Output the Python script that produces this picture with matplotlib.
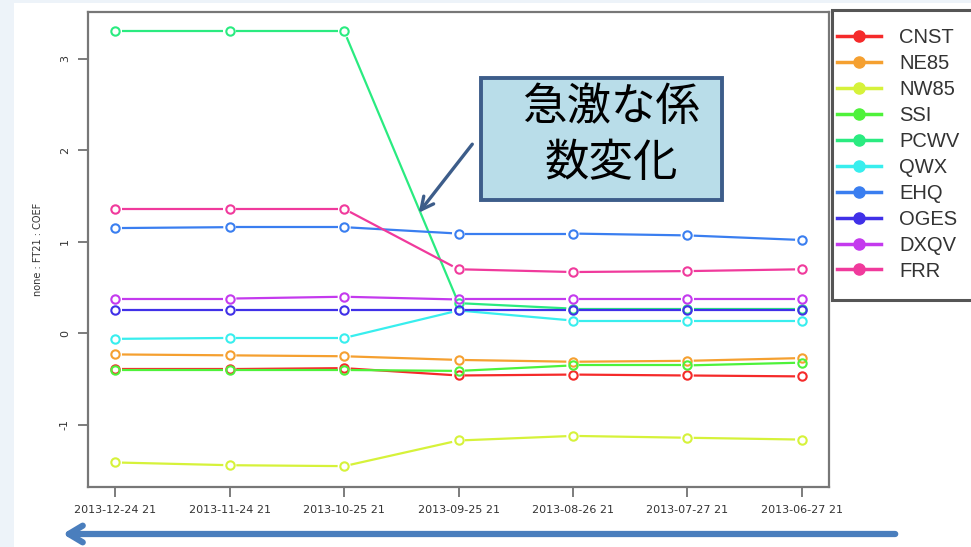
import numpy as np
import matplotlib.pyplot as plt
from matplotlib.lines import Line2D
from matplotlib.patches import Rectangle

W, H = 971, 547

dates = ["2013-12-24 21", "2013-11-24 21", "2013-10-25 21", "2013-09-25 21",
         "2013-08-26 21", "2013-07-27 21", "2013-06-27 21"]
names = ["CNST", "NE85", "NW85", "SSI", "PCWV", "QWX", "EHQ", "OGES", "DXQV", "FRR"]
colors = ["#f52a2a", "#f5a030", "#d6f23a", "#4ef23a", "#2aeb80",
          "#38eeee", "#3a7ef0", "#4030e8", "#c43aee", "#f03a9c"]

cnst = [-0.39, -0.39, -0.38, -0.46, -0.45, -0.46, -0.47]
ne85 = [-0.23, -0.24, -0.25, -0.29, -0.31, -0.30, -0.27]
nw85 = [-1.41, -1.44, -1.45, -1.17, -1.12, -1.14, -1.16]
ssi = [-0.40, -0.40, -0.40, -0.41, -0.35, -0.35, -0.32]
pcwv = [3.30, 3.30, 3.30, 0.33, 0.27, 0.27, 0.27]
qwx = [-0.06, -0.05, -0.05, 0.25, 0.14, 0.14, 0.14]
ehq = [1.15, 1.16, 1.16, 1.09, 1.09, 1.07, 1.02]
oges = [0.25, 0.25, 0.25, 0.25, 0.25, 0.25, 0.25]
dxqv = [0.38, 0.38, 0.40, 0.37, 0.37, 0.37, 0.37]
frr = [1.36, 1.36, 1.36, 0.70, 0.67, 0.68, 0.70]
series = [cnst, ne85, nw85, ssi, pcwv, qwx, ehq, oges, dxqv, frr]

note = "急激な係\n数変化"


def px(x0, y0, x1, y1):
    # image pixel box (top-left origin) -> figure fraction rect
    return [x0 / W, 1 - y1 / H, (x1 - x0) / W, (y1 - y0) / H]


fig = plt.figure(figsize=(W / 100, H / 100), dpi=100, facecolor="#edf3f9")
fig.patches.append(Rectangle((14 / W, 0), 1, 1 - 3 / H, transform=fig.transFigure,
                             facecolor="white", edgecolor="none", zorder=-5))

ax = fig.add_axes(px(88, 12, 829, 487))
ax.set_zorder(1)
x = np.arange(1, len(dates) + 1)
ax.set_xlim(0.76, 7.24)
ax.set_ylim(-1.678, 3.51)

# type="b" style: short gaps between line and open markers
gap = 6.5
for vals, c in zip(series, colors):
    pts = ax.transData.transform(np.column_stack([x, vals]))
    for p, q in zip(pts[:-1], pts[1:]):
        d = q - p
        L = np.hypot(*d)
        if L <= 2 * gap:
            continue
        u = d / L
        seg = ax.transData.inverted().transform([p + u * gap, q - u * gap])
        ax.plot(seg[:, 0], seg[:, 1], color=c, lw=1.6, solid_capstyle="butt", zorder=2)
    ax.plot(x, vals, ls="none", marker="o", ms=6, mfc="none", mec=c, mew=1.5, zorder=3)

ax.set_xticks(x)
ax.set_xticklabels(dates, fontsize=8, color="#333333")
ax.set_yticks([-1, 0, 1, 2, 3])
ax.set_yticklabels(["-1", "0", "1", "2", "3"], rotation=90, va="center",
                   fontsize=8, color="#333333")
ax.tick_params(length=7, width=1.2, color="#666666", pad=6)
for s in ax.spines.values():
    s.set_color("#777777")
    s.set_linewidth(1.6)
ax.set_ylabel("none : FT21 : COEF", fontsize=7, color="#333333", labelpad=12)

# legend frame runs off the right edge, as in the slide
fig.patches.append(Rectangle((832 / W, 1 - 300 / H), 200 / W, 290 / H, transform=fig.transFigure,
                             facecolor="white", edgecolor="#555555", lw=2.2, zorder=2))
handles = [Line2D([], [], color=c, lw=2.5, marker="o", ms=8, mfc=c, mec=c) for c in colors]
leg = fig.legend(handles, names, loc="upper left", bbox_to_anchor=(837 / W, 1 - 28 / H),
                 prop={"family": "Liberation Sans", "size": 14.5}, frameon=False,
                 handlelength=2.2, handletextpad=0.9, labelspacing=0.345,
                 borderpad=0, borderaxespad=0)
leg.set_zorder(3)
for t in leg.get_texts():
    t.set_color("#333333")

fig.patches.append(Rectangle((481 / W, 1 - 200 / H), 241 / W, 122 / H, transform=fig.transFigure,
                             facecolor="#b9dde9", edgecolor="#3d5d8a", lw=2.8, zorder=5))
fig.text(611 / W, 1 - 135 / H, note, ha="center", va="center", fontsize=32,
         family=["Noto Sans CJK JP", "DejaVu Sans"], linespacing=1.28, zorder=6)

fig.add_artist(plt.Annotation("", xy=(417, H - 215), xycoords="figure pixels",
                              xytext=(474, H - 142), textcoords="figure pixels",
                              arrowprops=dict(arrowstyle="->,head_length=0.9,head_width=0.45",
                                              color="#3d5d8a", lw=2.4), zorder=6))
fig.add_artist(plt.Annotation("", xy=(60, H - 534), xycoords="figure pixels",
                              xytext=(898, H - 534), textcoords="figure pixels",
                              arrowprops=dict(arrowstyle="->,head_length=1.0,head_width=0.6",
                                              color="#4a7ebd", lw=4.5), zorder=6))

fig.savefig("out.png", dpi=100, facecolor=fig.get_facecolor())
